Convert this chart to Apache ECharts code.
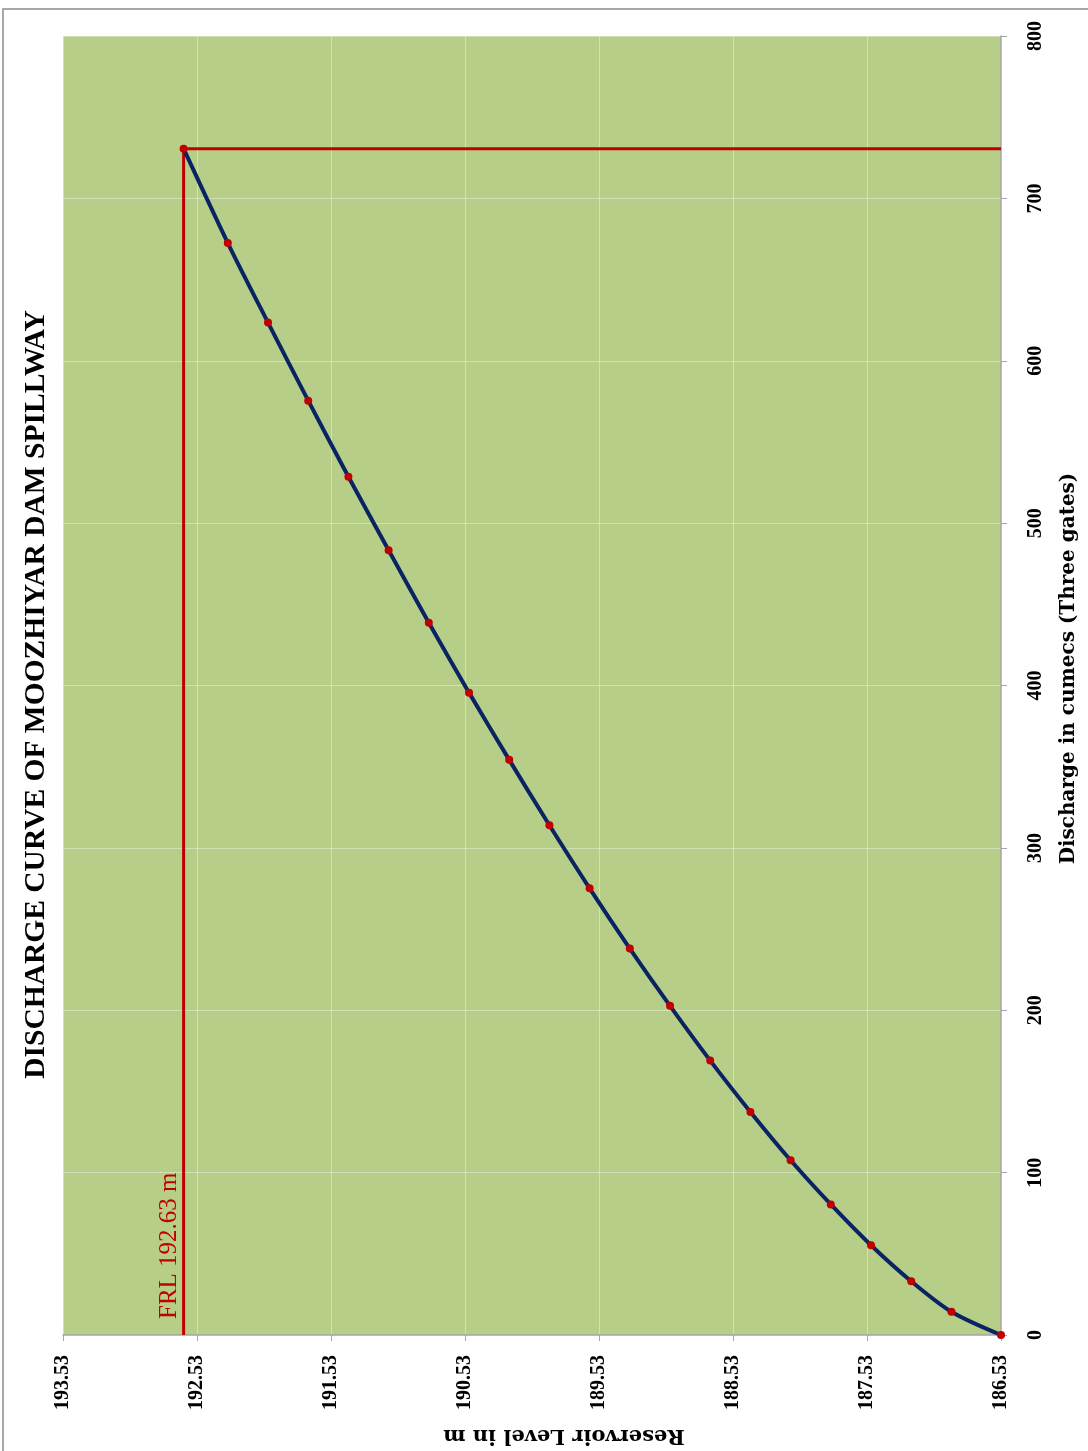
<!DOCTYPE html>
<html>
<head>
<meta charset="utf-8">
<script src="https://cdn.jsdelivr.net/npm/echarts@6/dist/echarts.min.js"></script>
<style>
html,body{margin:0;padding:0;background:#fff;}
#chart{width:1088px;height:1451px;}
</style>
</head>
<body>
<div id="chart"></div>
<script>
// Data
const titleText = 'DISCHARGE CURVE OF MOOZHIYAR DAM SPILLWAY';
const levelAxisName = 'Reservoir Level in m';
const dischargeAxisName = 'Discharge in cumecs (Three gates)';
const levels = [186.53, 186.90, 187.20, 187.50, 187.80, 188.10, 188.40, 188.70, 189.00, 189.30, 189.60, 189.90, 190.20, 190.50, 190.80, 191.10, 191.40, 191.70, 192.00, 192.30, 192.63];
const discharges = [0, 14.3, 33.1, 55.3, 80.4, 107.6, 137.4, 169.0, 202.7, 238.0, 275.1, 313.9, 354.2, 395.6, 438.7, 483.3, 528.6, 575.4, 623.5, 672.5, 730.6];
const frlLevel = 192.63;
const frlDischarge = 730.6;
const frlLabel = 'FRL 192.63 m';
const levelMin = 186.53, levelMax = 193.53, levelStep = 1;
const dischargeMin = 0, dischargeMax = 800, dischargeStep = 100;

const curveData = levels.map((l, i) => [l, discharges[i]]);
const frlLineData = [[frlLevel, dischargeMin], [frlLevel, frlDischarge], [levelMin, frlDischarge]];

const chart = echarts.init(document.getElementById('chart'), null, {renderer: 'canvas'});
const serif = '"Liberation Serif", "Times New Roman", serif';
const wideSerif = '"DejaVu Serif", serif';
const axisGray = '#A6A6A6';
const gridCol = 'rgba(255,255,255,0.38)';

chart.setOption({
  animation: false,
  backgroundColor: '#ffffff',
  grid: {left: 63, right: 87, top: 36, bottom: 115, show: true, backgroundColor: '#B7CE89', borderWidth: 0},
  xAxis: {
    type: 'value', position: 'bottom', inverse: true,
    min: levelMin, max: levelMax, interval: levelStep,
    name: levelAxisName, nameLocation: 'middle', nameRotate: 180, nameGap: 90,
    nameTextStyle: {fontFamily: wideSerif, fontWeight: 'bold', fontSize: 21, color: '#000', padding: [0, 64, 0, 0]},
    axisLine: {show: true, lineStyle: {color: axisGray, width: 1.5}},
    axisTick: {show: true, inside: false, length: 6, lineStyle: {color: axisGray}},
    axisLabel: {rotate: 90, margin: 20, fontFamily: serif, fontWeight: 'bold', fontSize: 20, color: '#000',
      formatter: v => v.toFixed(2)},
    splitLine: {show: true, lineStyle: {color: gridCol, width: 1}}
  },
  yAxis: {
    type: 'value', position: 'right',
    min: dischargeMin, max: dischargeMax, interval: dischargeStep,
    name: dischargeAxisName, nameLocation: 'middle', nameRotate: 90, nameGap: 58,
    nameTextStyle: {fontFamily: wideSerif, fontWeight: 'bold', fontSize: 20, color: '#000', padding: [0, 0, 0, 34]},
    axisLine: {show: true, lineStyle: {color: axisGray, width: 1.5}},
    axisTick: {show: true, inside: false, length: 6, lineStyle: {color: axisGray}},
    axisLabel: {rotate: 90, margin: 25, fontFamily: serif, fontWeight: 'bold', fontSize: 20, color: '#000'},
    splitLine: {show: true, lineStyle: {color: gridCol, width: 1}}
  },
  series: [
    {
      type: 'line', name: 'FRL', data: frlLineData, symbol: 'none', z: 2,
      lineStyle: {color: '#C00000', width: 3}, silent: true
    },
    {
      type: 'line', name: 'Discharge', data: curveData, smooth: 0.3, z: 3,
      symbol: 'circle', symbolSize: 8,
      lineStyle: {color: '#0A2463', width: 4},
      itemStyle: {color: '#C00000', borderColor: '#C00000', borderWidth: 0}
    }
  ]
});

const p = chart.convertToPixel({xAxisIndex: 0, yAxisIndex: 0}, [frlLevel, dischargeMin]);
const gridRect = chart.getModel().getComponent('grid').coordinateSystem.getRect();
chart.setOption({
  graphic: [
    {
      type: 'text', x: 36, y: gridRect.y + gridRect.height / 2 + 9, rotation: Math.PI / 2,
      style: {text: titleText, fontFamily: serif, fontWeight: 'bold', fontSize: 29.5, fill: '#000',
        textAlign: 'center', textVerticalAlign: 'middle'}
    },
    {
      type: 'text', x: p[0] - 2, y: p[1] - 16, rotation: Math.PI / 2,
      style: {text: frlLabel, fontFamily: serif, fontSize: 25, fill: '#C00000',
        textAlign: 'left', textVerticalAlign: 'bottom'}
    },
    {
      type: 'rect', shape: {x: 3, y: 9, width: 1200, height: 1600},
      style: {fill: 'none', stroke: '#8C8C8C', lineWidth: 1.5}, silent: true
    }
  ]
});
</script>
</body>
</html>
